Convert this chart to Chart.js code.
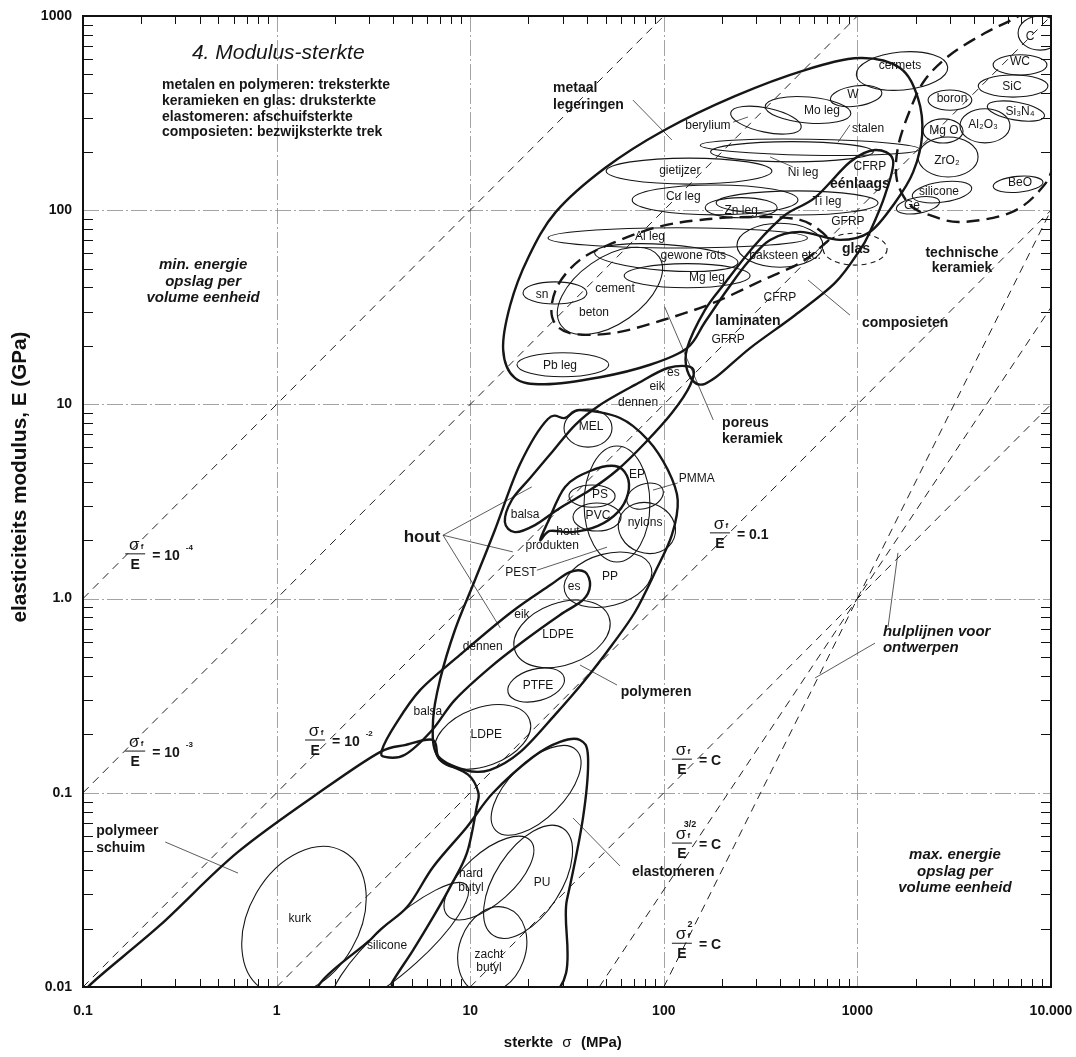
<!DOCTYPE html>
<html>
<head>
<meta charset="utf-8">
<script src="https://cdn.jsdelivr.net/npm/chart.js@4.4.0/dist/chart.umd.min.js"></script>
<style>body{margin:0;background:#fff;}</style>
</head>
<body>
<canvas id="chart" width="1076" height="1057"></canvas>
<script>
// Global constants and data

const FONT = '"Liberation Sans", Arial, sans-serif';

const xTicks = [0.1, 1, 10, 100, 1000, 10000];
const xTickLabels = ['0.1', '1', '10', '100', '1000', '10.000'];
const yTicks = [0.01, 0.1, 1, 10, 100, 1000];
const yTickLabels = ['0.01', '0.1', '1.0', '10', '100', '1000'];
const minorSteps = [2, 3, 4, 5, 6, 7, 8, 9];

// dashed guide lines [sigma1, E1, sigma2, E2]
const ratioLines = [[0.1, 1, 100, 1000], [0.1, 0.1, 1000, 1000], [0.1, 0.01, 10000, 1000], [1, 0.01, 10000, 100]];
const designLines = [[10, 0.01, 10000, 10], [46.4, 0.01, 10000, 31.6], [100, 0.01, 10000, 100]];

// material bubbles [name, sigma (MPa), E (GPa), half width (decades), half height (decades), tilt (deg)]
const bubbles = [
    ['cermets', 1700, 521, 0.237, 0.098, 5],
    ['W', 985, 387, 0.134, 0.052, 8],
    ['Mo leg', 556, 328, 0.222, 0.067, -5],
    ['berylium', 337, 291, 0.186, 0.062, -12],
    ['stalen', 569, 211, 0.567, 0.041, -1],
    ['Ni leg', 459, 200, 0.42, 0.052, 0],
    ['gietijzer', 135, 159, 0.428, 0.067, 0],
    ['Cu leg', 184, 113, 0.428, 0.077, 0],
    ['Ti leg', 488, 109, 0.418, 0.062, 0],
    ['Zn leg', 251, 103, 0.186, 0.052, 0],
    ['Al leg', 118, 72, 0.67, 0.052, 0],
    ['baksteen', 398, 66, 0.222, 0.113, 0],
    ['gewone rots', 103, 57, 0.371, 0.067, -4],
    ['Mg leg', 132, 46, 0.325, 0.062, 0],
    ['cement', 52.7, 38.4, 0.309, 0.17, 35],
    ['sn', 27.4, 37.5, 0.165, 0.057, 0],
    ['Pb leg', 30.1, 16.0, 0.237, 0.062, 0],
    ['boron', 3006, 369, 0.113, 0.052, 0],
    ['WC', 6918, 560, 0.139, 0.052, 0],
    ['SiC', 6370, 436, 0.18, 0.057, 0],
    ['C', 8770, 817, 0.113, 0.088, 0],
    ['Si3N4', 6590, 324, 0.15, 0.046, -10],
    ['Al2O3', 4560, 272, 0.129, 0.088, 0],
    ['MgO', 2770, 256, 0.103, 0.062, 0],
    ['ZrO2', 2940, 188, 0.155, 0.103, 0],
    ['silicone', 2735, 124, 0.155, 0.052, 8],
    ['Ge', 2055, 106, 0.113, 0.041, 10],
    ['BeO', 6760, 136, 0.129, 0.041, 5],
    ['MEL', 40.6, 7.55, 0.124, 0.098, 0],
    ['EP', 57.3, 3.07, 0.17, 0.299, 0],
    ['PMMA', 80, 3.37, 0.098, 0.062, 20],
    ['PS', 42.6, 3.37, 0.119, 0.057, 0],
    ['PVC', 45.2, 2.63, 0.124, 0.072, 0],
    ['nylons', 81.8, 2.31, 0.15, 0.129, -20],
    ['PP', 51.5, 1.25, 0.232, 0.134, 15],
    ['LDPE', 29.8, 0.658, 0.258, 0.16, 20],
    ['PTFE', 21.9, 0.359, 0.15, 0.082, 15],
    ['LDPE', 11.6, 0.194, 0.258, 0.15, 20],
    ['elastomeer', 21.9, 0.103, 0.294, 0.144, 45],
    ['PU', 19.9, 0.0348, 0.33, 0.17, 57],
    ['hard butyl', 12.5, 0.0364, 0.289, 0.129, 42],
    ['zacht butyl', 13.0, 0.0155, 0.23, 0.17, 70],
    ['silicone', 4.33, 0.0164, 0.464, 0.124, 42],
    ['kurk', 1.385, 0.0219, 0.412, 0.284, 60]
];
const glassBubble = ['glas', 973, 63, 0.165, 0.082, 0];

// class envelopes [sigma, E]
const metalsEnvelope = [[17, 13.7], [14.8, 19.1], [16.1, 32.5], [19.9, 56.8], [27.7, 98], [49.7, 165], [101, 259], [233, 387], [536, 527], [1030, 608], [1660, 540], [2055, 378], [2160, 244], [1940, 157], [1560, 109], [1160, 77.3], [813, 70.3], [506, 77.3], [354, 70.3], [272, 54.1], [212, 38.8], [163, 26.5], [132, 19.5], [84.9, 16.0], [46.8, 13.8], [24.3, 12.7]];
const compositesEnvelope = [[132, 19.5], [163, 30.6], [207, 42.2], [296, 66.2], [423, 94.4], [604, 116], [916, 177], [1233, 204], [1528, 181], [1390, 120], [1160, 77.3], [1030, 62.4], [766, 42.2], [476, 28.8], [279, 19.5], [184, 13.7], [150, 12.7], [132, 15.0]];
const woodAlong = [[140, 15.4], [137, 12.6], [110, 9.03], [80, 6.33], [57.3, 4.58], [41.6, 3.62], [29.1, 2.93], [21.6, 2.39], [17, 2.2], [15.1, 2.48], [16.4, 3.22], [20.4, 4.18], [26.5, 5.69], [34.8, 7.83], [46.8, 9.93], [71, 12.6], [105, 15.4]];
const woodProducts = [[23.0, 2.0], [25.2, 2.48], [30.9, 3.76], [41.6, 4.54], [56.0, 4.82], [64.6, 4.28], [65.3, 3.46], [57.9, 2.79], [45.7, 2.37], [33.6, 2.2], [25.8, 2.23]];
const woodAcross = [[3.5, 0.166], [4.09, 0.223], [5.51, 0.338], [8.85, 0.513], [16.1, 0.843], [25.8, 1.17], [32.7, 1.37], [39.2, 1.37], [41.6, 1.17], [38.3, 0.984], [29.1, 0.824], [19.2, 0.612], [12.6, 0.44], [8.34, 0.301], [6.35, 0.21], [4.6, 0.157], [3.63, 0.153]];
const polymersEnvelope = [[36.9, 9.35], [59.4, 8.51], [82.8, 6.56], [105, 4.59], [118, 3.22], [110, 2.12], [90.2, 1.37], [71, 0.853], [54, 0.577], [39.2, 0.381], [27.4, 0.252], [18.1, 0.162], [12.6, 0.131], [9.4, 0.131], [6.74, 0.157], [6.43, 0.237], [6.98, 0.381], [8.34, 0.689], [10.6, 1.25], [13.4, 2.25], [18.1, 4.93], [25.2, 8.41], [30.9, 8.51]];
const foamsEnvelope = [[0.106, 0.01], [0.25, 0.0208], [0.632, 0.0496], [1.82, 0.107], [3.42, 0.162], [4.6, 0.176], [6.43, 0.187], [6.98, 0.148], [9.75, 0.124], [11, 0.101], [10.8, 0.0845], [9.62, 0.049], [7.87, 0.0327], [6.43, 0.0229], [5.07, 0.0155], [3.94, 0.0105], [3.63, 0.0085], [0.106, 0.0085]];
const elastomersEnvelope = [[23.8, 0.0085], [31.6, 0.0281], [38.3, 0.075], [40.6, 0.153], [36.9, 0.187], [29.1, 0.183], [21.1, 0.153], [13.1, 0.0998], [9.62, 0.0667], [6.43, 0.0415], [4.72, 0.0258], [3.15, 0.0181], [1.74, 0.0085]];
const porousCeramics = [[697, 72.8], [506, 89.1], [279, 92.3], [154, 89.1], [92.3, 81.8], [54.7, 67.8], [36.9, 55.5], [28.1, 40.3], [26.5, 28.2], [32.7, 23.3], [54.7, 23.3], [99, 27.2], [180, 33.3], [325, 43.7], [506, 53.5], [664, 66.2]];
const technicalCeramics = [[11100, 1360], [6670, 988], [4560, 817], [3006, 630], [2230, 468], [1870, 328], [1620, 211], [1600, 143], [1870, 106], [2370, 94.4], [3390, 86.9], [6140, 96.8], [8770, 127], [10500, 181], [14100, 593]];

// text [text, sigma, E, style]
const labels = [
    ['4. Modulus-sterkte', 1.02, 644, 't'],
    ['metalen en polymeren: treksterkte', 0.256, 442, 'sL'],
    ['keramieken en glas: druksterkte', 0.256, 365, 'sL'],
    ['elastomeren: afschuifsterkte', 0.256, 302, 'sL'],
    ['composieten: bezwijksterkte trek', 0.256, 253, 'sL'],
    ['cermets', 1660, 553, 'n'], ['W', 948, 392, 'n'], ['Mo leg', 656, 324, 'n'],
    ['berylium', 169, 272, 'n'], ['stalen', 1135, 262, 'n'], ['Ni leg', 524, 156, 'n'],
    ['gietijzer', 121, 159, 'n'], ['Cu leg', 126, 117, 'n'], ['Ti leg', 697, 110, 'n'],
    ['Zn leg', 251, 99, 'n'], ['Al leg', 84.9, 72.8, 'n'], ['gewone rots', 142, 58.1, 'n'],
    ['baksteen etc.', 423, 58.1, 'n'], ['Mg leg', 167, 44.8, 'n'], ['cement', 56, 39.3, 'n'],
    ['beton', 43.6, 29.6, 'n'], ['sn', 23.5, 36.6, 'n'], ['Pb leg', 29.1, 15.8, 'n'],
    ['CFRP', 398, 35.3, 'n'], ['GFRP', 215, 21.5, 'n'], ['CFRP', 1160, 167, 'n'], ['GFRP', 893, 86.9, 'n'],
    ['boron', 3080, 374, 'n'], ['WC', 6918, 579, 'n'], ['SiC', 6290, 431, 'n'], ['C', 7800, 780, 'n'],
    ['Si₃N₄', 6918, 321, 'n'], ['Al₂O₃', 4460, 275, 'n'], ['Mg O', 2800, 256, 'n'], ['ZrO₂', 2900, 179, 'n'],
    ['silicone', 2640, 124, 'n'], ['Ge', 1915, 105, 'n'], ['BeO', 6918, 138, 'n'],
    ['MEL', 42.1, 7.65, 'n'], ['EP', 72.8, 4.33, 'n'], ['PMMA', 148, 4.13, 'n'], ['PS', 46.8, 3.41, 'n'],
    ['PVC', 45.7, 2.66, 'n'], ['nylons', 80, 2.45, 'n'], ['hout', 32, 2.2, 'n'], ['produkten', 26.5, 1.88, 'n'],
    ['balsa', 19.2, 2.69, 'n'], ['es', 112, 14.5, 'n'], ['eik', 92.3, 12.4, 'n'], ['dennen', 73.6, 10.2, 'n'],
    ['PEST', 18.3, 1.36, 'n'], ['PP', 52.7, 1.29, 'n'], ['es', 34.4, 1.15, 'n'], ['eik', 18.5, 0.824, 'n'],
    ['dennen', 11.6, 0.564, 'n'], ['LDPE', 28.4, 0.65, 'n'], ['PTFE', 22.4, 0.355, 'n'], ['balsa', 6.05, 0.261, 'n'],
    ['LDPE', 12.1, 0.199, 'n'], ['hard', 10.1, 0.0382, 'n'], ['butyl', 10.1, 0.0324, 'n'], ['PU', 23.5, 0.0344, 'n'],
    ['zacht', 12.5, 0.0146, 'n'], ['butyl', 12.5, 0.0125, 'n'], ['silicone', 3.72, 0.0164, 'n'], ['kurk', 1.32, 0.0224, 'n'],
    ['glas', 984, 63, 'b'],
    ['metaal', 26.8, 426, 'bL'], ['legeringen', 26.8, 348, 'bL'],
    ['laminaten', 272, 26.8, 'b'], ['éénlaags', 1030, 136, 'b'], ['composieten', 1763, 26.3, 'b'],
    ['technische', 3470, 60.3, 'b'], ['keramiek', 3470, 50.4, 'b'],
    ['poreus', 200, 8.02, 'bL'], ['keramiek', 200, 6.64, 'bL'],
    ['hout', 5.64, 2.07, 'bB'], ['polymeren', 91.2, 0.33, 'b'], ['elastomeren', 112, 0.0391, 'b'],
    ['polymeer', 0.117, 0.0635, 'bL'], ['schuim', 0.117, 0.052, 'bL'],
    ['min. energie', 0.417, 52.3, 'bi'], ['opslag per', 0.417, 42.7, 'bi'], ['volume eenheid', 0.417, 35.3, 'bi'],
    ['max. energie', 3190, 0.0479, 'bi'], ['opslag per', 3190, 0.0391, 'bi'], ['volume eenheid', 3190, 0.0324, 'bi'],
    ['hulplijnen voor', 1355, 0.673, 'biL'], ['ontwerpen', 1355, 0.557, 'biL']
];

// sigma_f / E labels [sigma, E, power on sigma, right side, exponent]
const fractions = [
    [0.186, 1.70, '', '= 10', '-4'],
    [0.186, 0.164, '', '= 10', '-3'],
    [1.58, 0.187, '', '= 10', '-2'],
    [195, 2.18, '', '= 0.1', ''],
    [124, 0.149, '', '= C', ''],
    [124, 0.0551, '3/2', '= C', ''],
    [124, 0.0168, '2', '= C', '']
];

// leader lines [sigma1, E1, sigma2, E2]
const leaders = [
    [69.3, 369, 110, 230], [228, 284, 272, 302], [916, 275, 794, 224], [464, 167, 354, 188],
    [180, 8.32, 101, 31.8], [916, 28.8, 556, 43.7],
    [7.24, 2.12, 20.8, 3.76], [7.24, 2.12, 16.6, 1.74], [7.24, 2.12, 14.3, 0.706],
    [22.1, 1.40, 50.9, 1.84], [118, 3.94, 87.9, 3.62], [57.3, 0.359, 36.9, 0.455],
    [59.4, 0.042, 34.0, 0.0741], [0.266, 0.0558, 0.632, 0.0386],
    [1440, 0.714, 1620, 1.72], [1233, 0.59, 604, 0.39]
];

const fonts = {
    n: '12px ' + FONT,
    b: 'bold 14px ' + FONT,
    bB: 'bold 17px ' + FONT,
    bi: 'italic bold 15px ' + FONT,
    t: 'italic 21px ' + FONT,
    s: 'bold 14px ' + FONT
};

// Drawing helpers
const drawBubble = function(ctx, xs, ys, b){
    const cx = xs.getPixelForValue(b[1]), cy = ys.getPixelForValue(b[2]);
    const rx = xs.getPixelForValue(b[1] * Math.pow(10, b[3])) - cx;
    const ry = cy - ys.getPixelForValue(b[2] * Math.pow(10, b[4]));
    ctx.beginPath();
    ctx.ellipse(cx, cy, rx, ry, -b[5] * Math.PI / 180, 0, Math.PI * 2);
    ctx.stroke();
}

// closed smooth curve through the envelope points
const drawLoop = function(ctx, xs, ys, pts){
    const p = pts.map(v => [xs.getPixelForValue(v[0]), ys.getPixelForValue(v[1])]);
    const n = p.length;
    ctx.beginPath();
    ctx.moveTo(p[0][0], p[0][1]);
    for(let i = 0; i < n; i++){
        const p0 = p[(i - 1 + n) % n], p1 = p[i], p2 = p[(i + 1) % n], p3 = p[(i + 2) % n];
        ctx.bezierCurveTo(p1[0] + (p2[0] - p0[0]) / 6, p1[1] + (p2[1] - p0[1]) / 6,
                          p2[0] - (p3[0] - p1[0]) / 6, p2[1] - (p3[1] - p1[1]) / 6, p2[0], p2[1]);
    }
    ctx.closePath();
    ctx.stroke();
}

const line = function(ctx, x1, y1, x2, y2){
    ctx.beginPath(); ctx.moveTo(x1, y1); ctx.lineTo(x2, y2); ctx.stroke();
}

const drawFraction = function(ctx, X, Y, f){
    ctx.textBaseline = 'alphabetic';
    ctx.textAlign = 'center';
    ctx.font = '17px ' + FONT;
    ctx.fillText('σ', X - 1, Y - 4);
    ctx.font = 'bold 8px ' + FONT;
    ctx.fillText('f', X + 7, Y - 5);
    if(f[2]){ ctx.font = 'bold 9px ' + FONT; ctx.fillText(f[2], X + 8, Y - 16); }
    ctx.lineWidth = 1;
    line(ctx, X - 10, Y, X + 10, Y);
    ctx.font = 'bold 14px ' + FONT;
    ctx.fillText('E', X, Y + 15);
    ctx.textAlign = 'left';
    ctx.textBaseline = 'middle';
    ctx.fillText(f[3], X + 17, Y + 2);
    if(f[4]){
        const w = ctx.measureText(f[3]).width;
        ctx.font = 'bold 8px ' + FONT;
        ctx.fillText(f[4], X + 17 + w + 6, Y - 6);
    }
}

// text squeezed or stretched to a given width
const fitText = function(ctx, text, x, y, width){
    const w = ctx.measureText(text).width;
    ctx.save();
    ctx.translate(x, y);
    ctx.scale(width / w, 1);
    ctx.textAlign = 'center';
    ctx.fillText(text, 0, 0);
    ctx.restore();
}

const sketchPlugin = {
    id: 'sketch',
    beforeDatasetsDraw(chart){
        const {ctx, chartArea: a, scales: {x, y}} = chart;
        ctx.save();
        ctx.strokeStyle = '#8c8c8c';
        ctx.lineWidth = 0.8;
        ctx.setLineDash([16, 3, 2, 3]);
        xTicks.slice(1, -1).forEach(v => {
            const p = Math.round(x.getPixelForValue(v)) + 0.5;
            line(ctx, p, a.top, p, a.bottom);
        });
        yTicks.slice(1, -1).forEach(v => {
            const p = Math.round(y.getPixelForValue(v)) + 0.5;
            line(ctx, a.left, p, a.right, p);
        });
        ctx.restore();
    },
    afterDatasetsDraw(chart){
        const {ctx, chartArea: a, scales: {x, y}} = chart;
        ctx.save();
        ctx.beginPath();
        ctx.rect(a.left, a.top, a.right - a.left, a.bottom - a.top);
        ctx.clip();
        ctx.strokeStyle = '#161616';
        ctx.fillStyle = '#161616';

        // bubbles
        ctx.lineWidth = 1.1;
        bubbles.forEach(b => drawBubble(ctx, x, y, b));
        ctx.setLineDash([5, 4]);
        drawBubble(ctx, x, y, glassBubble);

        // envelopes
        ctx.setLineDash([]);
        ctx.lineWidth = 2.4;
        [metalsEnvelope, compositesEnvelope, woodAlong, woodProducts, woodAcross,
         polymersEnvelope, foamsEnvelope, elastomersEnvelope].forEach(e => drawLoop(ctx, x, y, e));
        ctx.setLineDash([13, 7]);
        [porousCeramics, technicalCeramics].forEach(e => drawLoop(ctx, x, y, e));
        ctx.setLineDash([]);

        // leaders
        ctx.lineWidth = 0.7;
        leaders.forEach(l => line(ctx, x.getPixelForValue(l[0]), y.getPixelForValue(l[1]),
                                       x.getPixelForValue(l[2]), y.getPixelForValue(l[3])));

        // labels
        ctx.textBaseline = 'middle';
        labels.forEach(t => {
            let style = t[3], align = 'center';
            if(style.endsWith('L')){ align = 'left'; style = style.slice(0, -1); }
            ctx.font = fonts[style];
            ctx.textAlign = align;
            ctx.fillText(t[0], x.getPixelForValue(t[1]), y.getPixelForValue(t[2]));
        });
        fractions.forEach(f => drawFraction(ctx, x.getPixelForValue(f[0]), y.getPixelForValue(f[1]), f));
        ctx.restore();

        // frame and inward minor ticks
        ctx.save();
        ctx.strokeStyle = '#111';
        ctx.lineWidth = 1;
        xTicks.slice(0, -1).forEach(d => minorSteps.forEach(m => {
            const p = Math.round(x.getPixelForValue(d * m)) + 0.5;
            line(ctx, p, a.top, p, a.top + 8);
            line(ctx, p, a.bottom, p, a.bottom - 8);
        }));
        yTicks.slice(0, -1).forEach(d => minorSteps.forEach(m => {
            const p = Math.round(y.getPixelForValue(d * m)) + 0.5;
            line(ctx, a.left, p, a.left + 10, p);
            line(ctx, a.right, p, a.right - 10, p);
        }));
        ctx.lineWidth = 2;
        ctx.strokeRect(a.left, a.top, a.right - a.left, a.bottom - a.top);

        // axis titles
        ctx.fillStyle = '#111';
        ctx.textBaseline = 'middle';
        ctx.font = 'bold 15px ' + FONT;
        const cx = (a.left + a.right) / 2, ty = a.bottom + 56;
        ctx.textAlign = 'right';
        ctx.fillText('sterkte', cx - 14, ty);
        ctx.textAlign = 'left';
        ctx.fillText('(MPa)', cx + 14, ty);
        ctx.font = '15px ' + FONT;
        ctx.textAlign = 'center';
        ctx.fillText('σ', cx, ty);
        ctx.save();
        ctx.translate(20, 477);
        ctx.rotate(-Math.PI / 2);
        ctx.font = 'bold 20px ' + FONT;
        fitText(ctx, 'elasticiteits modulus, E (GPa)', 0, 0, 291);
        ctx.restore();
        ctx.restore();
    }
};

const guideDatasets = ratioLines.concat(designLines).map(l => ({
    data: [{x: l[0], y: l[1]}, {x: l[2], y: l[3]}],
    showLine: true,
    borderColor: '#222',
    borderWidth: 1,
    borderDash: [8, 6],
    pointRadius: 0,
    fill: false
}));

const tickFont = {family: FONT, size: 14, weight: 'bold'};

new Chart(document.getElementById('chart').getContext('2d'), {
    type: 'scatter',
    data: {datasets: guideDatasets},
    options: {
        responsive: false,
        animation: false,
        layout: {padding: {top: 16, right: 25, left: 0, bottom: 0}},
        plugins: {legend: {display: false}, tooltip: {enabled: false}},
        scales: {
            x: {
                type: 'logarithmic', min: 0.1, max: 10000,
                afterBuildTicks: s => { s.ticks = xTicks.map(v => ({value: v})); },
                afterFit: s => { s.height = 70; s.paddingLeft = 0; s.paddingRight = 0; },
                grid: {display: false, drawTicks: false},
                border: {display: false},
                ticks: {callback: v => xTickLabels[xTicks.indexOf(v)], font: tickFont, color: '#111',
                        padding: 16, maxRotation: 0, autoSkip: false}
            },
            y: {
                type: 'logarithmic', min: 0.01, max: 1000,
                afterBuildTicks: s => { s.ticks = yTicks.map(v => ({value: v})); },
                afterFit: s => { s.width = 83; s.paddingTop = 0; s.paddingBottom = 0; },
                grid: {display: false, drawTicks: false},
                border: {display: false},
                ticks: {callback: v => yTickLabels[yTicks.indexOf(v)], font: tickFont, color: '#111',
                        padding: 11, autoSkip: false}
            }
        }
    },
    plugins: [sketchPlugin]
});
</script>
</body>
</html>
